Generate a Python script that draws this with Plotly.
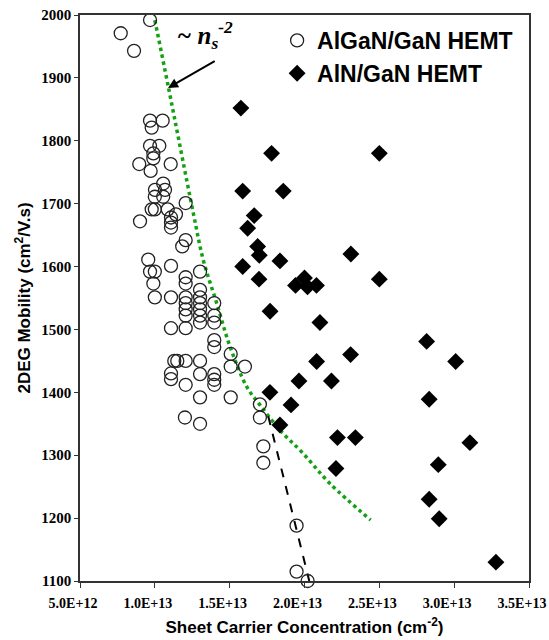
import plotly.graph_objects as go
import numpy as np

SCALE = 1e13

# AlGaN/GaN HEMT (open circles): sheet carrier conc. (x 1e13 cm^-2), mobility (cm2/V.s)
algan_ns = [0.772, 0.861, 0.968,
            0.968, 1.052, 0.979,
            0.968, 1.03, 0.99, 0.99, 0.896, 1.106, 0.972,
            1.056, 1.001, 1.068, 1.0, 1.056, 1.206,
            0.979, 1.0, 1.086, 1.141, 1.108, 0.901, 1.108, 1.108,
            1.206, 1.183, 0.956,
            1.108, 0.968, 1.0, 1.302, 1.206, 1.206, 0.99, 1.302,
            1.0, 1.108, 1.206, 1.302,
            1.206, 1.302, 1.397,
            1.206, 1.302,
            1.206, 1.302, 1.397,
            1.302, 1.397,
            1.108, 1.206,
            1.397, 1.397, 1.507,
            1.13, 1.15, 1.206, 1.302,
            1.507, 1.602,
            1.108, 1.108, 1.302, 1.397, 1.397, 1.397, 1.206,
            1.302, 1.507,
            1.201, 1.302, 1.702, 1.702, 1.725, 1.725,
            1.947, 1.947, 2.021]
algan_mu = [1971, 1943, 1992,
            1832, 1832, 1821,
            1792, 1792, 1780, 1772, 1763, 1763, 1752,
            1732, 1722, 1722, 1711, 1711, 1701,
            1691, 1691, 1691, 1683, 1678, 1672, 1670, 1662,
            1642, 1632, 1611,
            1601, 1592, 1592, 1592, 1583, 1573, 1573, 1563,
            1551, 1551, 1551, 1551,
            1542, 1542, 1542,
            1532, 1532,
            1522, 1522, 1522,
            1511, 1511,
            1502, 1502,
            1483, 1472, 1461,
            1450, 1450, 1450, 1450,
            1441, 1441,
            1430, 1421, 1429, 1429, 1420, 1412, 1412,
            1392, 1392,
            1360, 1350, 1381, 1360, 1314, 1288,
            1188, 1115, 1100]

# AlN/GaN HEMT (filled diamonds)
aln_ns = [1.575, 1.78, 2.50, 1.587, 1.858, 1.664, 1.62, 1.687, 1.698, 1.836,
          2.31, 1.587, 1.696, 2.50, 1.94, 2.00, 2.02, 2.08, 1.77, 2.103,
          2.816, 2.308, 2.081, 3.01, 1.963, 2.18, 1.769, 2.833, 1.91, 1.836,
          2.22, 2.34, 3.105, 2.894, 2.21, 2.833, 2.90, 3.279]
aln_mu = [1852, 1780, 1780, 1720, 1720, 1681, 1661, 1632, 1618, 1609,
          1620, 1600, 1580, 1580, 1570, 1582, 1568, 1570, 1529, 1511,
          1481, 1460, 1449, 1449, 1418, 1418, 1400, 1389, 1380, 1348,
          1328, 1328, 1320, 1285, 1279, 1230, 1199, 1130]

# ~ ns^-2 trend (green dotted)
fit_ns = [1.0, 1.09, 1.257, 1.324, 1.413, 1.502, 1.614, 1.702, 1.836, 1.99, 2.17, 2.442]
fit_mu = [1992, 1886, 1685, 1610, 1542, 1473, 1409, 1380, 1340, 1303, 1255, 1197]

# black dashed trend
dash_ns = [1.758, 2.032]
dash_mu = [1362, 1100]

# axis ticks
x_tickvals = [0.5, 1.0, 1.5, 2.0, 2.5, 3.0, 3.5]
x_ticktext = ["5.0E+12", "1.0E+13", "1.5E+13", "2.0E+13", "2.5E+13", "3.0E+13", "3.5E+13"]
y_tickvals = [1100, 1200, 1300, 1400, 1500, 1600, 1700, 1800, 1900, 2000]

sc = lambda v: (np.array(v) * SCALE).tolist()

fig = go.Figure()

fig.add_trace(go.Scatter(
    x=sc(fit_ns), y=fit_mu, mode="lines", showlegend=False,
    line=dict(color="#14a014", width=3.5, dash="dot", shape="spline"),
    hoverinfo="skip"))
fig.add_trace(go.Scatter(
    x=sc(dash_ns), y=dash_mu, mode="lines", showlegend=False,
    line=dict(color="black", width=2, dash="dash"), hoverinfo="skip"))

fig.add_trace(go.Scatter(
    x=sc(algan_ns), y=algan_mu, mode="markers", name="AlGaN/GaN HEMT",
    cliponaxis=False,
    marker=dict(symbol="circle-open", size=13, color="#222222",
                line=dict(width=1.3, color="#222222"))))
fig.add_trace(go.Scatter(
    x=sc(aln_ns), y=aln_mu, mode="markers", name="AlN/GaN HEMT",
    cliponaxis=False,
    marker=dict(symbol="diamond", size=13, color="black")))

# ~ ns^-2 label and arrow
fig.add_annotation(x=1.333e13, y=1968, xref="x", yref="y", showarrow=False,
                   text="<b><i>~ n<sub>s</sub><sup>-2</sup></i></b>",
                   font=dict(family="Liberation Serif, Times New Roman, serif",
                             size=25, color="black"))
fig.add_annotation(x=1.088e13, y=1884, ax=1.41e13, ay=1928,
                   xref="x", yref="y", axref="x", ayref="y",
                   text="", showarrow=True, arrowhead=2, arrowsize=1,
                   arrowwidth=2, arrowcolor="black")

serif = "Liberation Serif, Times New Roman, serif"
sans = "Liberation Sans, Arial, sans-serif"

fig.update_layout(
    width=549, height=640,
    margin=dict(l=80, r=20, t=15, b=59, autoexpand=False),
    paper_bgcolor="white", plot_bgcolor="white",
    showlegend=True,
    legend=dict(x=0.439, y=0.993, xanchor="left", yanchor="top",
                bgcolor="rgba(0,0,0,0)", borderwidth=0,
                font=dict(family=sans, size=23, color="black", weight="bold"),
                itemwidth=30, tracegroupgap=0),
    xaxis=dict(range=[0.5e13, 3.5e13], tickvals=sc(x_tickvals),
               ticktext=x_ticktext,
               showgrid=False, zeroline=False, showline=True, linecolor="#333333",
               linewidth=1.5, mirror=True, ticks="outside", ticklen=5,
               tickcolor="#333333", ticklabeloverflow="allow", ticklabelstandoff=3,
               ticklabelshift=-7,
               tickfont=dict(family=serif, size=14, color="black", weight="bold"),
               title=dict(text="Sheet Carrier Concentration (cm<sup>-2</sup>)",
                          font=dict(family=sans, size=17, color="black", weight="bold"),
                          standoff=12)),
    yaxis=dict(range=[1100, 2000], tickvals=y_tickvals,
               showgrid=False, zeroline=False, showline=True, linecolor="#333333",
               linewidth=1.5, mirror=True, ticks="outside", ticklen=4,
               tickcolor="#333333",
               tickfont=dict(family=serif, size=15, color="black", weight="bold"),
               title=dict(text="2DEG Mobility (cm<sup>2</sup>/V.s)",
                          font=dict(family=sans, size=17, color="black", weight="bold"),
                          standoff=6)),
)

fig.write_html("out.html", config={"displayModeBar": False},
               post_script="document.body.style.margin='0px';")
